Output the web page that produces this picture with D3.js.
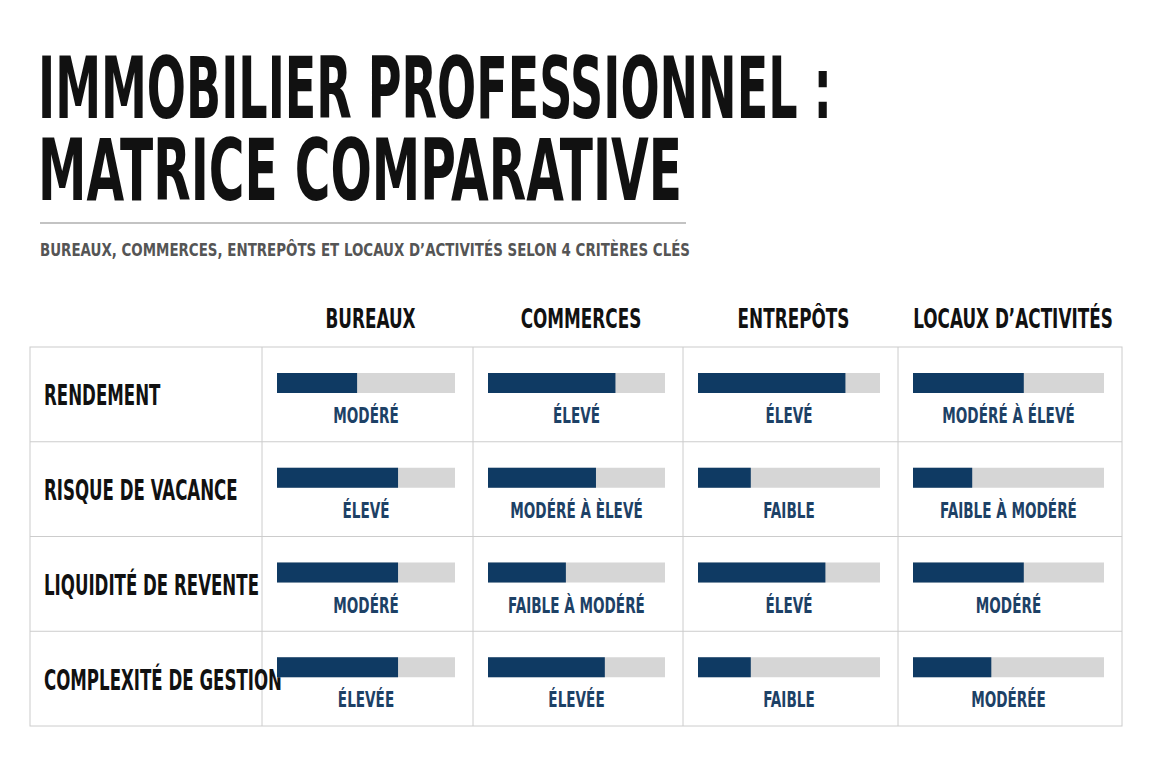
<!DOCTYPE html>
<html><head><meta charset="utf-8">
<script src="https://cdn.jsdelivr.net/npm/d3@7"></script>
<style>
body{margin:0;background:#fff;}
text{font-family:"DejaVu Sans Condensed","Liberation Sans Narrow",sans-serif;font-weight:bold;}
</style></head><body>
<script>
var categories = ["BUREAUX", "COMMERCES", "ENTREPÔTS", "LOCAUX D’ACTIVITÉS"];
var criteria = ["RENDEMENT", "RISQUE DE VACANCE", "LIQUIDITÉ DE REVENTE", "COMPLEXITÉ DE GESTION"];
// score per criterion (rows) x category (columns), fraction of bar
var scores = [
    [0.45, 0.72, 0.81, 0.58],
    [0.68, 0.61, 0.29, 0.31],
    [0.68, 0.44, 0.70, 0.58],
    [0.68, 0.66, 0.29, 0.41]
];
var levels = [
    ["MODÉRÉ", "ÉLEVÉ", "ÉLEVÉ", "MODÉRÉ À ÉLEVÉ"],
    ["ÉLEVÉ", "MODÉRÉ À ÈLEVÉ", "FAIBLE", "FAIBLE À MODÉRÉ"],
    ["MODÉRÉ", "FAIBLE À MODÉRÉ", "ÉLEVÉ", "MODÉRÉ"],
    ["ÉLEVÉE", "ÉLEVÉE", "FAIBLE", "MODÉRÉE"]
];

var svg = d3.select("body").append("svg").attr("width", 1152).attr("height", 768);

// condensed text helper: scale horizontally around its anchor point
function ctext(px, py, size, sx, anchor, fill, str) {
    return svg.append("text").attr("transform", "translate(" + px + "," + py + ") scale(" + sx + ",1)")
        .attr("font-size", size).attr("text-anchor", anchor).attr("fill", fill).text(str);
}

// titles
svg.append("text").attr("x", 38).attr("y", 118).attr("font-size", 86)
    .attr("textLength", 794).attr("lengthAdjust", "spacingAndGlyphs").attr("fill", "#111")
    .text("IMMOBILIER PROFESSIONNEL :");
svg.append("text").attr("x", 38).attr("y", 200).attr("font-size", 86)
    .attr("textLength", 644).attr("lengthAdjust", "spacingAndGlyphs").attr("fill", "#111")
    .text("MATRICE COMPARATIVE");
svg.append("line").attr("x1", 40).attr("x2", 686).attr("y1", 223).attr("y2", 223)
    .attr("stroke", "#888").attr("stroke-width", 1.2);
svg.append("text").attr("x", 40).attr("y", 256).attr("font-size", 17)
    .attr("textLength", 650).attr("lengthAdjust", "spacingAndGlyphs").attr("fill", "#555")
    .attr("font-weight", "normal")
    .text("BUREAUX, COMMERCES, ENTREPÔTS ET LOCAUX D’ACTIVITÉS SELON 4 CRITÈRES CLÉS");

// grid scales
var colEdges = [30, 262, 473, 683, 898, 1122];
var x = d3.scaleOrdinal().domain(categories).range(colEdges.slice(1, 5));
var colW = function(i) { return colEdges[i + 2] - colEdges[i + 1]; };
var y = d3.scaleBand().domain(criteria).range([347, 726]);

var g = svg.append("g");
g.append("rect").attr("x", 30).attr("y", 347).attr("width", 1092).attr("height", 379)
    .attr("fill", "none").attr("stroke", "#ccc");
colEdges.slice(1, 5).forEach(function(e) {
    g.append("line").attr("x1", e).attr("x2", e).attr("y1", 347).attr("y2", 726).attr("stroke", "#ccc");
});
criteria.slice(1).forEach(function(c) {
    g.append("line").attr("x1", 30).attr("x2", 1122).attr("y1", y(c)).attr("y2", y(c)).attr("stroke", "#ccc");
});

// headers
categories.forEach(function(c, i) {
    ctext(x(c) + colW(i) / 2 + 3, 328, 26, 0.72, "middle", "#111", c);
});

// row labels
criteria.forEach(function(r) {
    ctext(44, y(r) + y.bandwidth() / 2 + 11, 28, 0.66, "start", "#111", r);
});

// bars
criteria.forEach(function(r, ri) {
    categories.forEach(function(c, ci) {
        var x0 = x(c) + 15, w = colW(ci) - 33;
        var bx = d3.scaleLinear().domain([0, 1]).range([0, w]);
        var top = y(r) + 26;
        svg.append("rect").attr("x", x0).attr("y", top).attr("width", bx(1)).attr("height", 20).attr("fill", "#d6d6d6");
        svg.append("rect").attr("x", x0).attr("y", top).attr("width", bx(scores[ri][ci])).attr("height", 20).attr("fill", "#0f3a63");
        ctext(x0 + w / 2, top + 50, 21, 0.72, "middle", "#1d4166", levels[ri][ci]);
    });
});
</script>
</body></html>
